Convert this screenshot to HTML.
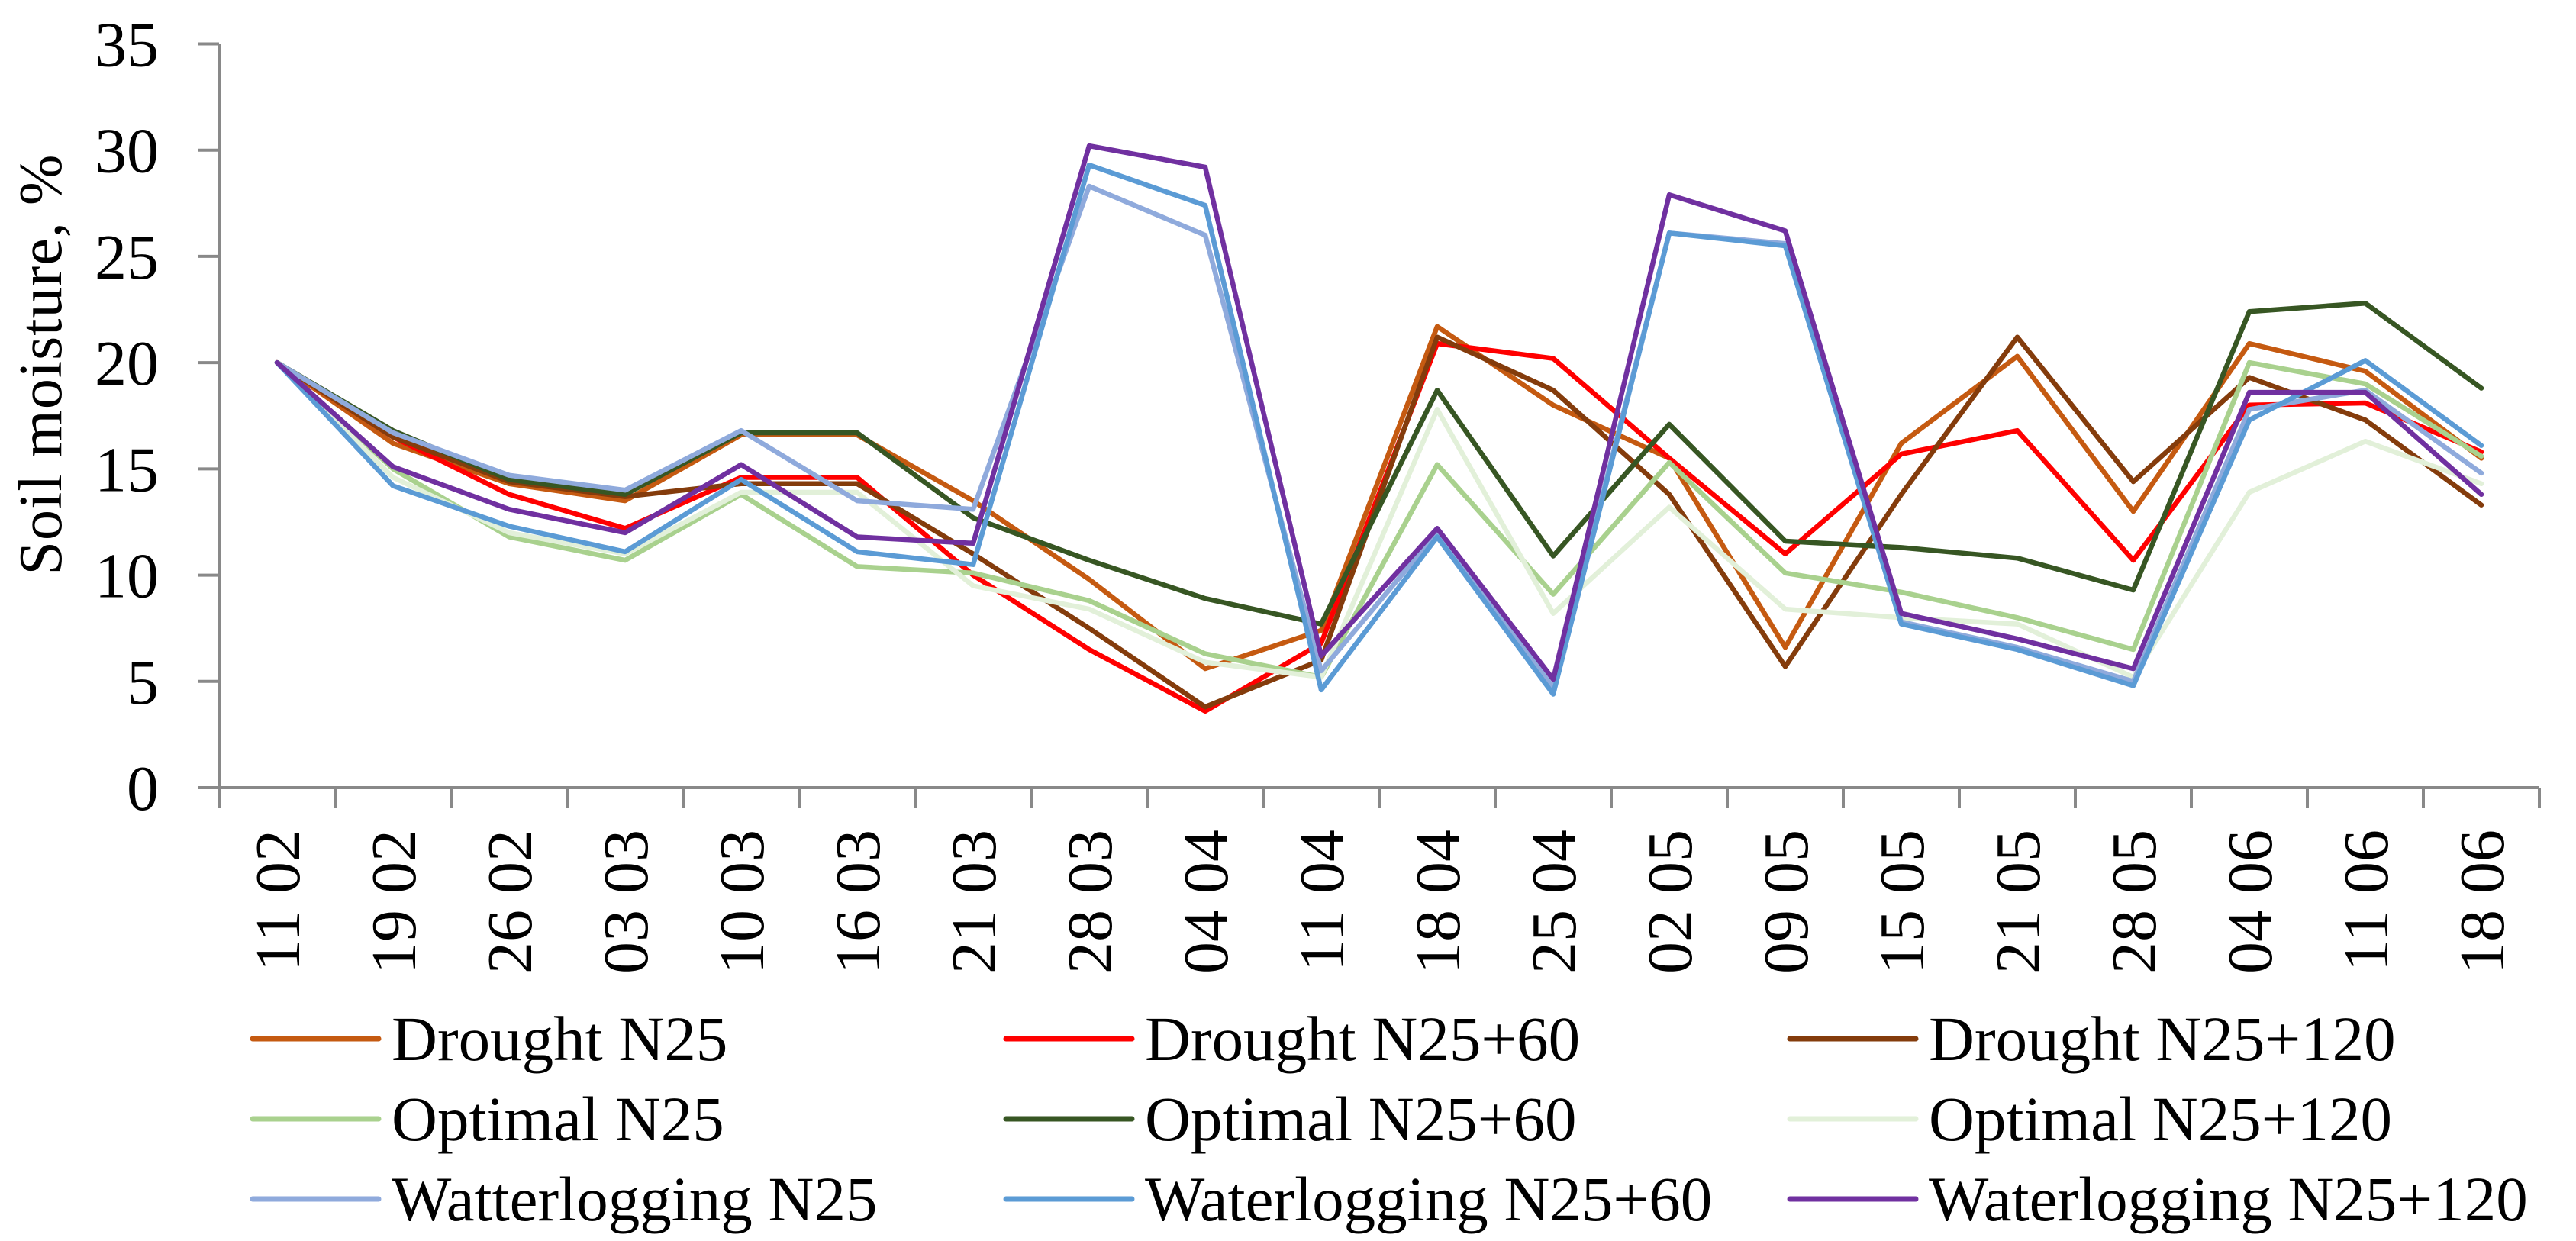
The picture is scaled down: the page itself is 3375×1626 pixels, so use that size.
<!DOCTYPE html>
<html><head><meta charset="utf-8"><style>
html,body{margin:0;padding:0;background:#fff;}
svg{display:block;font-family:"Liberation Serif",serif;}
</style></head><body>
<svg id="chart" width="3375" height="1626" viewBox="0 0 3375 1626" xmlns="http://www.w3.org/2000/svg">
<rect width="3375" height="1626" fill="#fff"/>
<g id="grid"></g><g id="series"></g><g id="legend"></g>
</svg>
<script>
const categories=["11 02","19 02","26 02","03 03","10 03","16 03","21 03","28 03","04 04","11 04","18 04","25 04","02 05","09 05","15 05","21 05","28 05","04 06","11 06","18 06"];
const yTicks=[0,5,10,15,20,25,30,35];
const seriesNames=["Drought N25","Drought N25+60","Drought N25+120","Optimal N25","Optimal N25+60","Optimal N25+120","Watterlogging N25","Waterlogging N25+60","Waterlogging N25+120"];
const droughtN25=[20,16.2,14.3,13.5,16.6,16.6,13.5,9.8,5.6,7.4,21.7,18,15.5,6.6,16.2,20.3,13,20.9,19.6,15.5];
const droughtN25p60=[20,16.5,13.8,12.2,14.6,14.6,10,6.5,3.6,6.8,20.9,20.2,15.5,11,15.7,16.8,10.7,18,18.1,15.8];
const droughtN25p120=[20,16.5,14.4,13.7,14.3,14.3,11,7.5,3.8,6,21.2,18.7,13.8,5.7,13.8,21.2,14.4,19.3,17.3,13.3];
const optimalN25=[20,15,11.8,10.7,13.8,10.4,10.1,8.8,6.3,5.2,15.2,9.1,15.3,10.1,9.2,8,6.5,20,19,15.6];
const optimalN25p60=[20,16.8,14.5,13.8,16.7,16.7,12.7,10.7,8.9,7.7,18.7,10.9,17.1,11.6,11.3,10.8,9.3,22.4,22.8,18.8];
const optimalN25p120=[20,14.6,12,11,13.9,13.9,9.5,8.4,5.9,5.2,17.8,8.2,13.2,8.4,8,7.7,5.2,13.9,16.3,14.3];
const waterN25=[20,16.7,14.7,14,16.8,13.5,13.1,28.3,26,5.5,12,4.7,26.1,25.6,7.8,6.6,5,17.8,18.7,14.8];
const waterN25p60=[20,14.2,12.3,11.1,14.5,11.1,10.5,29.3,27.4,4.6,11.8,4.4,26.1,25.5,7.7,6.5,4.8,17.3,20.1,16.1];
const waterN25p120=[20,15.1,13.1,12,15.2,11.8,11.5,30.2,29.2,6.2,12.2,5.1,27.9,26.2,8.2,7,5.6,18.6,18.6,13.8];
const seriesValues=[droughtN25,droughtN25p60,droughtN25p120,optimalN25,optimalN25p60,optimalN25p120,waterN25,waterN25p60,waterN25p120];
const colors=["#C55A11","#FF0000","#843C0C","#A9D18E","#375623","#E2F0D9","#8FAADC","#5B9BD5","#7030A0"];

const NS="http://www.w3.org/2000/svg";
const X0=287,X1=3327,Y0=1032,YTOP=57.5,YMAX=35;
const band=(X1-X0)/categories.length;
const xs=i=>X0+band*(i+0.5);
const ys=v=>Y0-(v/YMAX)*(Y0-YTOP);
function mk(tag,attrs,parent){const e=document.createElementNS(NS,tag);for(const k in attrs)e.setAttribute(k,attrs[k]);parent.appendChild(e);return e;}
const grid=document.getElementById('grid'),ser=document.getElementById('series'),leg=document.getElementById('legend');

let ax=mk('line',{x1:X0,y1:YTOP,x2:X0,y2:Y0,stroke:'#898989','stroke-width':4},grid);


let bx=mk('line',{x1:X0-27,y1:Y0,x2:X1,y2:Y0,stroke:'#898989','stroke-width':4},grid);


yTicks.forEach(t=>{
  const y=ys(t);
  let tk=mk('line',{x1:X0-27,y1:y,x2:X0,y2:y,stroke:'#898989','stroke-width':4},grid);
  
  
  let tl=mk('text',{x:208,y:y+29,'text-anchor':'end','font-size':84,fill:'#000'},grid);
  tl.textContent=t;
  
  
});
for(let i=0;i<=categories.length;i++){
  const x=X0+band*i;
  let tk=mk('line',{x1:x,y1:Y0,x2:x,y2:Y0+27,stroke:'#898989','stroke-width':4},grid);
  
  
}
categories.forEach((c,i)=>{
  const x=xs(i)+29,y=1087;
  let t=mk('text',{x:x,y:y,transform:`rotate(-90 ${x} ${y})`,'text-anchor':'end','font-size':84,fill:'#000'},grid);
  t.textContent=c;
  
  
});
let yt=mk('text',{x:80,y:478,transform:'rotate(-90 80 478)','text-anchor':'middle','font-size':80,fill:'#000',textLength:551,'xml:space':'preserve'},grid);
yt.textContent="Soil  moisture, %";



seriesValues.forEach((vals,s)=>{
  const pts=vals.map((v,i)=>xs(i).toFixed(1)+','+ys(v).toFixed(1)).join(' ');
  let pl=mk('polyline',{points:pts,fill:'none',stroke:colors[s],'stroke-width':6.5,'stroke-linejoin':'round','stroke-linecap':'round'},ser);
  
  
});

const colX=[331,1318,2345],rowY=[1361,1466,1571];
seriesNames.forEach((n,s)=>{
  const r=Math.floor(s/3),c=s%3;
  const g=mk('g',{},leg);
  
  
  mk('line',{x1:colX[c],y1:rowY[r],x2:colX[c]+165,y2:rowY[r],stroke:colors[s],'stroke-width':7,'stroke-linecap':'round'},g);
  const t=mk('text',{x:colX[c]+182,y:rowY[r]+28,'font-size':83,fill:'#000'},g);
  t.textContent=n;
});
</script>
</body></html>
